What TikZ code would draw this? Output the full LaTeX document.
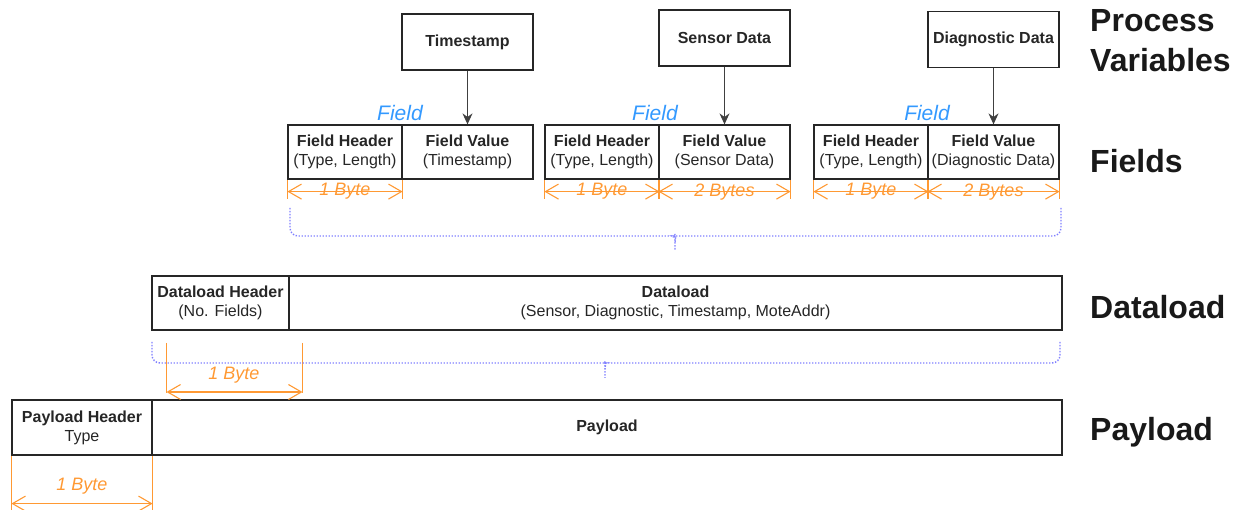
\documentclass[tikz,border=0pt]{standalone}
\usepackage{fontspec}
\setmainfont{Liberation Sans}
\usetikzlibrary{arrows.meta,calc}
\definecolor{dimc}{HTML}{FF9933}
\definecolor{fieldc}{HTML}{3399FF}
\definecolor{bracec}{HTML}{7F7FFF}
\begin{document}
\begin{tikzpicture}[x=1pt,y=-1pt,
  box/.style={draw=black!85, line width=1.2pt, inner sep=0pt, align=center,
    font=\fontsize{16}{19}\selectfont, text=black!85},
  pvbox/.style={box, minimum width=131pt, minimum height=56pt},
  hbox/.style={box, minimum width=114pt, minimum height=54pt},
  vbox/.style={box, minimum width=131pt, minimum height=54pt},
  feed/.style={draw=black!75, line width=1.1pt, -{Stealth[length=11pt,width=10pt]}},
  fieldlbl/.style={text=fieldc, font=\fontsize{21}{24}\selectfont\itshape, inner sep=0pt},
  dimln/.style={draw=dimc, line width=1.1pt},
  dimarr/.style={dimln, {Straight Barb[length=13pt,width=15pt]}-{Straight Barb[length=13pt,width=15pt]}},
  dimtxt/.style={text=dimc, font=\fontsize{18}{20}\selectfont\itshape, inner sep=0pt},
  brace/.style={draw=bracec, line width=1.4pt, dash pattern=on 1.4pt off 1.6pt, rounded corners=8pt},
  level/.style={anchor=west, inner sep=0pt, align=left, font=\fontsize{32}{40}\selectfont\bfseries, text=black!90}
]
\useasboundingbox (0,0) rectangle (1240,510);

% process variables
\node[pvbox] (ts) at (467.5,42) {\textbf{Timestamp}};
\node[pvbox] (sd) at (724.5,38) {\textbf{Sensor Data}};
\node[pvbox] (dd) at (993.5,39.5) {\textbf{Diagnostic Data}};

% fields
\node[hbox] (fh1) at (345,152) {\textbf{Field Header}\\(Type, Length)};
\node[vbox] (fv1) at (467.5,152) {\textbf{Field Value}\\(Timestamp)};
\node[hbox] (fh2) at (602,152) {\textbf{Field Header}\\(Type, Length)};
\node[vbox] (fv2) at (724.5,152) {\textbf{Field Value}\\(Sensor Data)};
\node[hbox] (fh3) at (871,152) {\textbf{Field Header}\\(Type, Length)};
\node[vbox] (fv3) at (993.5,152) {\textbf{Field Value}\\(Diagnostic Data)};

\node[fieldlbl] (fl1) at (400,113) {Field};
\node[fieldlbl] (fl2) at (655,113) {Field};
\node[fieldlbl] (fl3) at (927,113) {Field};

\draw[feed] (ts.south) -- (fv1.north);
\draw[feed] (sd.south) -- (fv2.north);
\draw[feed] (dd.south) -- (fv3.north);

% dataload
\node[box, minimum width=137pt, minimum height=54pt] (dh) at (220.5,303) {\textbf{Dataload Header}\\(No. Fields)};
\node[box, minimum width=773pt, minimum height=54pt] (dl) at (675.5,303) {\textbf{Dataload}\\(Sensor, Diagnostic, Timestamp, MoteAddr)};

% payload
\node[box, minimum width=140pt, minimum height=55pt] (ph) at (82,427.5) {\textbf{Payload Header}\\Type};
\node[box, minimum width=910pt, minimum height=55pt] (pl) at (607,427.5) {\textbf{Payload}};

% level labels
\node[level] (lpv) at (1090,41) {Process\\Variables};
\node[level] (lf) at (1090,161) {Fields};
\node[level] (ld) at (1090,307) {Dataload};
\node[level] (lp) at (1090,432) {Payload};

% byte dimensions (fields)
\newcommand\dimrow[3]{%
  \draw[dimln] (#1) -- ++(0,19);
  \draw[dimln] (#2) -- ++(0,19);
  \draw[dimarr] ($(#1)+(0,12)$) -- node[dimtxt]{#3} ($(#2)+(0,12)$);
}
\dimrow{fh1.south west}{fh1.south east}{1 Byte}
\dimrow{fh2.south west}{fh2.south east}{1 Byte}
\dimrow{fv2.south west}{fv2.south east}{2 Bytes}
\dimrow{fh3.south west}{fh3.south east}{1 Byte}
\dimrow{fv3.south west}{fv3.south east}{2 Bytes}

% dataload header byte
\coordinate (da) at (166.5,343);
\coordinate (db) at (302.5,343);
\draw[dimln] (da) -- ++(0,50);
\draw[dimln] (db) -- ++(0,50);
\draw[dimarr] ($(da)+(0,49)$) -- ($(db)+(0,49)$);
\node[dimtxt] (dbt) at (234,375) {1 Byte};

% payload header byte
\draw[dimln] (ph.south west) -- ++(0,55);
\draw[dimln] (ph.south east) -- ++(0,55);
\draw[dimarr] ($(ph.south west)+(0,48)$) -- ($(ph.south east)+(0,48)$);
\node[dimtxt] (pbt) at (82,486) {1 Byte};

% braces
\draw[brace] (290,208) |- (668,236) .. controls (673,236) and (675,238) .. (675,242) -- (675,248);
\draw[brace] (1061,208) |- (682,236) .. controls (677,236) and (675,238) .. (675,242);
\draw[brace] (152,342) |- (598,363) .. controls (603,363) and (605,365) .. (605,369) -- (605,378);
\draw[brace] (1060,342) |- (612,363) .. controls (607,363) and (605,365) .. (605,369);
\end{tikzpicture}
\end{document}
